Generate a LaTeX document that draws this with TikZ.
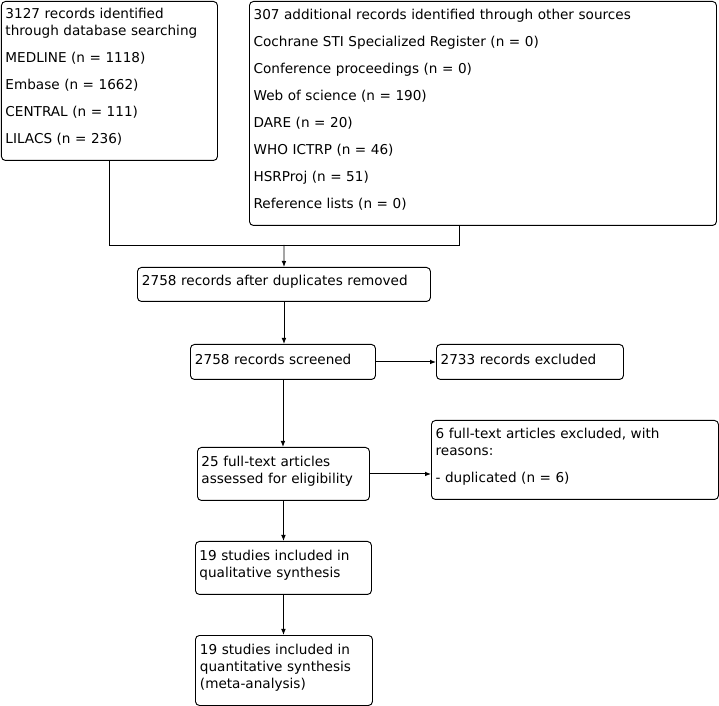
\documentclass[tikz,border=0pt]{standalone}
\usepackage{fontspec}
\setmainfont{DejaVu Sans}
\usetikzlibrary{arrows.meta, calc}

\begin{document}
\begin{tikzpicture}[
  x=0.75pt, y=-0.75pt,
  box/.style={rectangle, draw, rounded corners=3pt, anchor=north west,
    align=left, inner xsep=3pt, inner ysep=2pt, line width=0.7pt,
    font=\fontsize{10.2}{12.75}\selectfont,
    execute at end node={\endgraf\vspace*{4.5pt}}},
  arr/.style={-{Latex[length=4.5pt, width=3.5pt]}, line width=0.7pt},
  lnk/.style={line width=0.7pt},
]
\useasboundingbox (0,0) rectangle (719,706);

%% Identification
\node[box, minimum width=162pt, minimum height=119.25pt, text width=156pt] (ident) at (1,1)
  {3127 records identified\\through database searching\\[7.5pt]
   MEDLINE (n = 1118)\\[7.5pt]Embase (n = 1662)\\[7.5pt]
   CENTRAL (n = 111)\\[7.5pt]LILACS (n = 236)\endgraf\vspace*{1.5pt}};
\node[box, minimum width=350.25pt, minimum height=168pt, text width=344pt] (other) at (249,1)
  {307 additional records identified through other sources\\[7.5pt]
   Cochrane STI Specialized Register (n = 0)\\[7.5pt]
   Conference proceedings (n = 0)\\[7.5pt]
   Web of science (n = 190)\\[7.5pt]
   DARE (n = 20)\\[7.5pt]
   WHO ICTRP (n = 46)\\[7.5pt]
   HSRProj (n = 51)\\[7.5pt]
   Reference lists (n = 0)\endgraf\vspace*{1.5pt}};

%% Screening
\node[box, minimum width=219.75pt, minimum height=25.5pt, text width=213pt] (dedup) at (137,267)
  {2758 records after duplicates removed};
\node[box, minimum width=138.75pt, minimum height=26.25pt, text width=132pt] (screen) at (190,344)
  {2758 records screened};
\node[box, minimum width=140.25pt, minimum height=26.25pt, text width=134pt] (excl) at (436,344)
  {2733 records excluded};

%% Eligibility
\node[box, minimum width=129pt, minimum height=39.75pt, text width=123pt] (full) at (197,447)
  {25 full-text articles\\assessed for eligibility};
\node[box, minimum width=215.25pt, minimum height=59.25pt, text width=209pt] (fexcl) at (431,420)
  {6 full-text articles excluded, with\\reasons:\\[7.5pt]- duplicated (n = 6)};

%% Included
\node[box, minimum width=132pt, minimum height=39.75pt, text width=126pt] (qual) at (195,541)
  {19 studies included in\\qualitative synthesis};
\node[box, minimum width=132.75pt, minimum height=52.5pt, text width=126pt] (quant) at (195,635)
  {19 studies included in\\quantitative synthesis\\(meta-analysis)};

%% Merge of the two sources
\coordinate (join) at (284,245);
\coordinate (otherfoot) at ([xshift=157.5pt]other.south west);
\draw[lnk] (ident.south) -- (ident.south |- join) -- (otherfoot |- join) -- (otherfoot);
\draw[arr] (join) -- (dedup.north);

%% Flow down the middle
\foreach \a/\b in {dedup/screen, screen/full, full/qual, qual/quant}{
  \draw[arr] (\a.south) -- (\a.south |- \b.north);
}

%% Exclusions
\draw[arr] (screen.east) -- (excl.west);
\draw[arr] (full.east) -- (fexcl.west |- full.east);
\end{tikzpicture}
\end{document}
